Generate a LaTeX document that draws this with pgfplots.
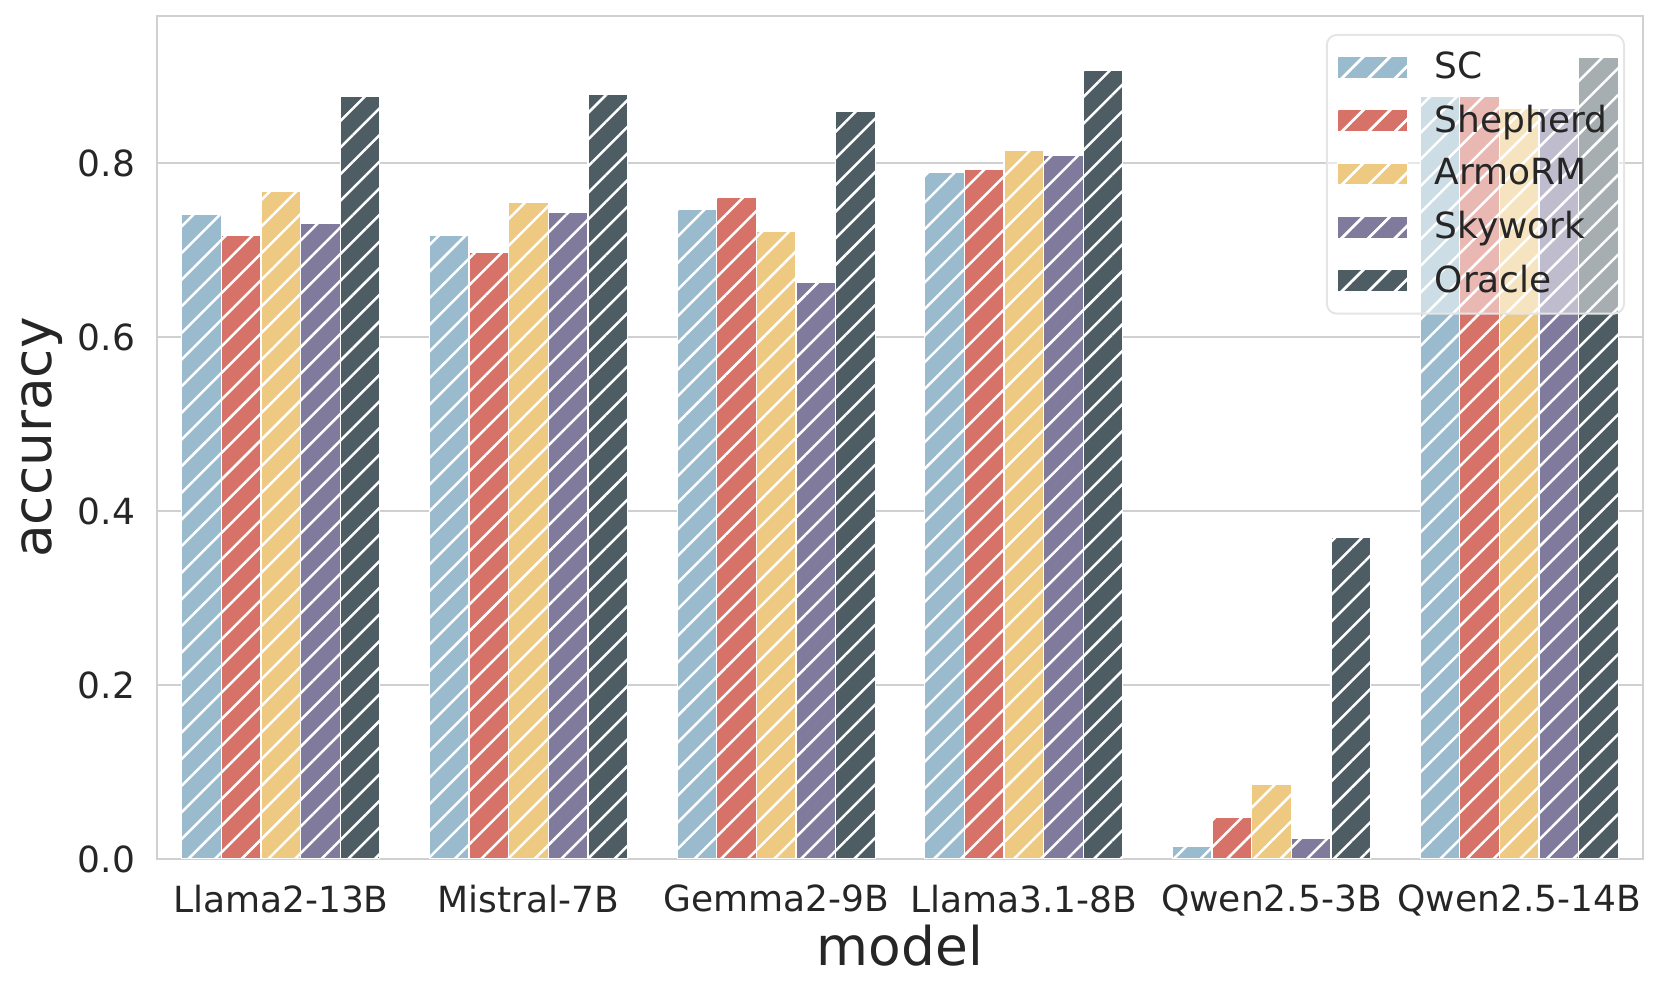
\documentclass[border=0pt]{standalone}
\usepackage{fontspec}
\setmainfont{DejaVu Sans}
\usepackage{pgfplots}
\pgfplotsset{compat=1.18}
\usetikzlibrary{patterns.meta}

\definecolor{cSC}{RGB}{154,187,206}
\definecolor{cShep}{RGB}{214,114,104}
\definecolor{cArmo}{RGB}{237,201,130}
\definecolor{cSky}{RGB}{128,123,156}
\definecolor{cOra}{RGB}{78,93,99}
\definecolor{gridc}{RGB}{208,208,208}

\tikzset{
  hbar/.style={fill=#1, draw=white, line width=0.35pt,
    postaction={pattern={Lines[angle=45,distance=5.65pt,line width=0.75pt]}, pattern color=white}},
}
\newcommand{\legbar}[1]{\draw[hbar=#1, rounded corners=0pt, fill opacity=1, draw opacity=1] (0pt,-3.3pt) rectangle (21pt,3.3pt);}

\begin{document}
\begin{tikzpicture}
\begin{axis}[
    scale only axis,
    width=445.8pt, height=252.9pt,
    ybar=0pt, bar width=0.16,
    xmin=-0.5, xmax=5.5,
    ymin=0, ymax=0.969,
    xtick={0,1,2,3,4,5},
    xticklabels={Llama2-13B,Mistral-7B,Gemma2-9B,Llama3.1-8B,Qwen2.5-3B,Qwen2.5-14B},
    ytick={0,0.2,0.4,0.6,0.8},
    yticklabel style={/pgf/number format/fixed, /pgf/number format/fixed zerofill, /pgf/number format/precision=1},
    /pgf/number format/assume math mode=true,
    tick style={draw=none},
    ticklabel style={font=\fontsize{10.8}{13}\selectfont, text=black!85},
    yticklabel style={xshift=-3pt},
    axis line style={draw=gridc, line width=0.7pt},
    ymajorgrids, major grid style={draw=gridc, line width=0.6pt},
    xlabel={model}, ylabel={accuracy},
    every axis x label/.style={at={(axis description cs:0.5,0)}, yshift=-26.1pt, anchor=center,
      font=\fontsize{16}{19}\selectfont, text=black!85},
    every axis y label/.style={at={(axis description cs:0,0.5)}, xshift=-34.5pt, rotate=90, anchor=center,
      font=\fontsize{16}{19}\selectfont, text=black!85},
    legend style={at={(1,1)}, xshift=-5.4pt, yshift=-5.4pt, anchor=north east,
      draw=black!10, line width=0.6pt, fill=white, fill opacity=0.5, draw opacity=1, text opacity=1,
      rounded corners=3pt, inner xsep=3pt, inner ysep=3pt,
      font=\fontsize{10.8}{13}\selectfont, text=black!85, row sep=2.4pt,
      /tikz/every even column/.append style={column sep=0pt}},
    legend cell align=left,
]
\coordinate (bl) at (rel axis cs:0,0);
\coordinate (tr) at (rel axis cs:1,1);

\addplot[hbar=cSC, legend image code/.code={\legbar{cSC}}] coordinates {
  (0,0.741) (1,0.717) (2,0.747) (3,0.789) (4,0.015) (5,0.877)};
\addlegendentry{\hspace{6pt}SC}
\addplot[hbar=cShep, legend image code/.code={\legbar{cShep}}] coordinates {
  (0,0.717) (1,0.697) (2,0.760) (3,0.793) (4,0.048) (5,0.877)};
\addlegendentry{\hspace{6pt}Shepherd}
\addplot[hbar=cArmo, legend image code/.code={\legbar{cArmo}}] coordinates {
  (0,0.767) (1,0.755) (2,0.721) (3,0.815) (4,0.086) (5,0.863)};
\addlegendentry{\hspace{6pt}ArmoRM}
\addplot[hbar=cSky, legend image code/.code={\legbar{cSky}}] coordinates {
  (0,0.731) (1,0.743) (2,0.663) (3,0.809) (4,0.024) (5,0.863)};
\addlegendentry{\hspace{6pt}Skywork}
\addplot[hbar=cOra, legend image code/.code={\legbar{cOra}}] coordinates {
  (0,0.877) (1,0.879) (2,0.859) (3,0.907) (4,0.370) (5,0.921)};
\addlegendentry{\hspace{6pt}Oracle}
\end{axis}
\pgfresetboundingbox
\path[use as bounding box] ([shift={(-47.1pt,-40.5pt)}]bl) rectangle ([shift={(5.1pt,4.8pt)}]tr);
\end{tikzpicture}
\end{document}
